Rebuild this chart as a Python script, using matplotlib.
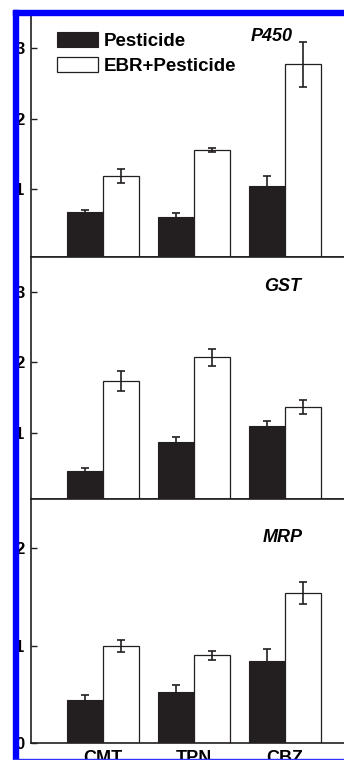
import matplotlib
matplotlib.use("Agg")
import matplotlib.pyplot as plt
import numpy as np
from matplotlib.patches import Rectangle

plt.rcParams['font.family'] = ['Liberation Sans', 'DejaVu Sans']

categories = ["CMT", "TPN", "CBZ"]
genes = ["P450", "GST", "MRP"]
pest_vals = {"P450": [0.68, 0.60, 1.04], "GST": [0.46, 0.87, 1.10], "MRP": [0.44, 0.53, 0.84]}
pest_err = {"P450": [0.02, 0.06, 0.14], "GST": [0.04, 0.065, 0.07], "MRP": [0.06, 0.07, 0.13]}
ebr_vals = {"P450": [1.18, 1.55, 2.77], "GST": [1.73, 2.07, 1.36], "MRP": [1.00, 0.90, 1.54]}
ebr_err = {"P450": [0.10, 0.03, 0.32], "GST": [0.14, 0.125, 0.10], "MRP": [0.06, 0.05, 0.11]}
yticks = {"P450": [1, 2, 3], "GST": [1, 2, 3], "MRP": [0, 1, 2]}
ylims = {"P450": (0.04, 3.47), "GST": (0.055, 3.5), "MRP": (0.0, 2.5)}
series_labels = ["Pesticide", "EBR+Pesticide"]

W, H = 344, 760
fig = plt.figure(figsize=(W / 100, H / 100), dpi=100)

# panel pixel extents (top, bottom)
panel_px = {"P450": (15, 256.7), "GST": (256.7, 499.3), "MRP": (499.3, 743.3)}
title_pos = {"P450": (1.857, 0.894), "GST": (1.97, 0.86), "MRP": (1.97, 0.826)}
left_px, right_px = 31, 357
dark = '#231f20'
x = np.arange(len(categories))
bw = 0.4

for g in genes:
    t, b = panel_px[g]
    ax = fig.add_axes([left_px / W, 1 - b / H, (right_px - left_px) / W, (b - t) / H])
    ax.bar(x - bw / 2, pest_vals[g], bw, color=dark, edgecolor=dark, linewidth=0.8,
           yerr=pest_err[g], error_kw=dict(ecolor=dark, elinewidth=1.2, capsize=2.6, capthick=1.2),
           label=series_labels[0], zorder=2)
    ax.bar(x + bw / 2, ebr_vals[g], bw, color='white', edgecolor=dark, linewidth=0.9,
           yerr=ebr_err[g], error_kw=dict(ecolor=dark, elinewidth=1.2, capsize=2.6, capthick=1.2),
           label=series_labels[1], zorder=2)
    ax.set_xlim(-0.791, 2.791)
    ax.set_ylim(*ylims[g])
    ax.set_yticks(yticks[g])
    ax.set_yticklabels([str(v) for v in yticks[g]], fontsize=12, fontweight='bold')
    ax.tick_params(axis='y', direction='in', length=4, width=1.0, pad=4.5, colors=dark, labelcolor='black')
    for s in ax.spines.values():
        s.set_linewidth(1.2)
        s.set_color(dark)
    if g == "MRP":
        ax.set_xticks(x)
        ax.set_xticklabels(categories, fontsize=13, fontweight='bold')
        ax.tick_params(axis='x', length=0, pad=4.5)
    else:
        ax.set_xticks([])
    weight = 'bold' if g == "P450" else 'semibold'
    tx, ty = title_pos[g]
    ax.text(tx, ty, g, transform=ax.get_xaxis_transform(),
            fontsize=13, fontstyle='italic', fontweight=weight, ha='center', va='baseline')
    if g == "P450":
        ax.legend(loc='upper left', bbox_to_anchor=(57 / W, 1 - 32 / H), bbox_transform=fig.transFigure,
                  frameon=False, prop=dict(weight='bold', size=13.5),
                  handlelength=2.2, handleheight=0.85, handletextpad=0.3,
                  labelspacing=0.38, borderpad=0, borderaxespad=0)

# blue highlight border
blue = '#0000ff'
fig.patches.append(Rectangle((0, 0), 13 / W, 1, transform=fig.transFigure, color='white', zorder=10))
fig.patches.append(Rectangle((0, 1 - 10 / H), 1, 10 / H, transform=fig.transFigure, color='white', zorder=10))
fig.patches.append(Rectangle((13 / W, 0), 5.3 / W, 1 - 10 / H, transform=fig.transFigure, color=blue, zorder=11))
fig.patches.append(Rectangle((13 / W, 1 - 15 / H), 1, 5 / H, transform=fig.transFigure, color=blue, zorder=11))
fig.patches.append(Rectangle((13 / W, 0), 1, 1.5 / H, transform=fig.transFigure, color='#3030ff', zorder=11))

fig.savefig("out.png", dpi=100)
